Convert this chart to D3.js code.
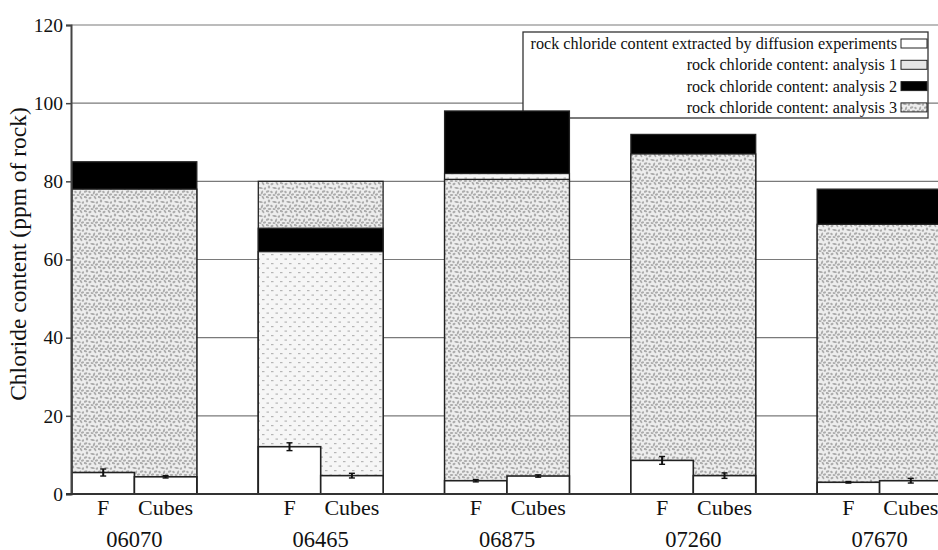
<!DOCTYPE html>
<html>
<head>
<meta charset="utf-8">
<script src="https://cdn.jsdelivr.net/npm/d3@7/dist/d3.min.js"></script>
<style>
  html, body { margin: 0; padding: 0; background: #fff; }
  svg { display: block; }
</style>
</head>
<body>
<svg id="chart" width="938" height="550"></svg>
<script>
// Borehole samples and the two kinds of diffusion sample per borehole
const sites = ["06070", "06465", "06875", "07260", "07670"];
const samples = ["F", "Cubes"];

// Whole-rock chloride content from three independent analyses (ppm of rock)
const analysis1 = [null, 62, 82, null, null];
const analysis2 = [85, 68, 98, 92, 78];
const analysis3 = [78, 80, 80.5, 87, 69];

// Chloride extracted by the diffusion experiments (ppm of rock) and its error
const extractedF = [5.5, 12.1, 3.4, 8.6, 3.0];
const extractedFErr = [0.9, 1.0, 0.3, 1.0, 0.2];
const extractedCubes = [4.4, 4.7, 4.6, 4.7, 3.4];
const extractedCubesErr = [0.3, 0.6, 0.3, 0.7, 0.6];

const yTicks = [0, 20, 40, 60, 80, 100, 120];
const yLabel = "Chloride content (ppm of rock)";
const legendLabels = [
  "rock chloride content extracted by diffusion experiments",
  "rock chloride content: analysis 1",
  "rock chloride content: analysis 2",
  "rock chloride content: analysis 3"
];

const FONT = "Liberation Serif";
const svg = d3.select("#chart");
const W = 938, H = 550;
const plot = { left: 71, right: 942, top: 25, bottom: 494 };

const x = d3.scaleBand().domain(sites).range([plot.left + 1, plot.right]).paddingInner(0.33).paddingOuter(0);
const xs = d3.scaleBand().domain(samples).range([0, x.bandwidth()]);
const y = d3.scaleLinear().domain([0, 120]).range([plot.bottom, plot.top]);

// ---- fill patterns ----
const defs = svg.append("defs");

// coarse speckle used for analysis 3
const speck = defs.append("pattern").attr("id", "speckle")
  .attr("patternUnits", "userSpaceOnUse").attr("width", 14).attr("height", 14);
speck.append("rect").attr("width", 14).attr("height", 14).attr("fill", "#ededed");
const blobs = [
  [1, 1, 2.2, 1.0, 20], [6, 2, 1.6, 1.1, -30], [11, 1.5, 2.0, 0.9, 60],
  [3, 5, 1.5, 1.2, 80], [8.5, 6, 2.3, 1.0, 10], [13, 6.5, 1.4, 1.1, -50],
  [1.5, 9.5, 1.9, 1.0, -20], [5.5, 10, 1.3, 1.2, 45], [10, 10.5, 2.0, 1.0, -70],
  [3.5, 13, 1.8, 0.9, 0], [8, 13.2, 1.4, 1.0, 30], [12.5, 12.5, 1.6, 1.1, -10]
];
blobs.forEach(b => {
  speck.append("ellipse").attr("cx", b[0]).attr("cy", b[1]).attr("rx", b[2]).attr("ry", b[3])
    .attr("transform", `rotate(${b[4]} ${b[0]} ${b[1]})`).attr("fill", "#acacac");
});

// fine dash grid used for analysis 1
const dots = defs.append("pattern").attr("id", "dots")
  .attr("patternUnits", "userSpaceOnUse").attr("width", 9).attr("height", 9);
dots.append("rect").attr("width", 9).attr("height", 9).attr("fill", "#f6f6f6");
dots.append("rect").attr("x", 1).attr("y", 2).attr("width", 2.5).attr("height", 1.2).attr("fill", "#b5b5b5");
dots.append("rect").attr("x", 5.5).attr("y", 6.5).attr("width", 2.5).attr("height", 1.2).attr("fill", "#b5b5b5");

const fills = { a1: "url(#dots)", a2: "#000", a3: "url(#speckle)" };

// ---- grid lines ----
svg.append("g").selectAll("line").data(yTicks.filter(t => t > 0)).join("line")
  .attr("x1", plot.left).attr("x2", W)
  .attr("y1", d => y(d)).attr("y2", d => y(d))
  .attr("stroke", "#7a7a7a").attr("stroke-width", 1.2);

// ---- legend ----
const lg = svg.append("g");
lg.append("rect").attr("x", 523).attr("y", 32).attr("width", 405).attr("height", 86)
  .attr("fill", "#fff").attr("stroke", "#333").attr("stroke-width", 1.3);
const legendFills = ["#fff", "#e6e6e6", "#000", "url(#speckle)"];
legendLabels.forEach((lab, i) => {
  const cy = 43.5 + i * 21.3;
  lg.append("text").attr("x", 897).attr("y", cy + 5.5).attr("text-anchor", "end")
    .attr("font-family", FONT).attr("font-size", 16.2).attr("fill", "#111").text(lab);
  lg.append("rect").attr("x", 901).attr("y", cy - 4.5).attr("width", 26).attr("height", 9)
    .attr("fill", legendFills[i]).attr("stroke", "#222").attr("stroke-width", 1);
});

// ---- whole-rock analyses: overlapping bars, tallest behind ----
const bars = svg.append("g");
sites.forEach((s, i) => {
  const vals = [
    { key: "a1", v: analysis1[i] },
    { key: "a2", v: analysis2[i] },
    { key: "a3", v: analysis3[i] }
  ].filter(d => d.v != null).sort((a, b) => b.v - a.v);
  vals.forEach(d => {
    bars.append("rect")
      .attr("x", x(s)).attr("width", x.bandwidth())
      .attr("y", y(d.v)).attr("height", y(0) - y(d.v))
      .attr("fill", fills[d.key]).attr("stroke", "#222").attr("stroke-width", 1.3);
  });
});

// ---- diffusion extracted chloride (white bars with error bars) ----
const ext = svg.append("g");
sites.forEach((s, i) => {
  const rows = [
    { sample: "F", v: extractedF[i], e: extractedFErr[i] },
    { sample: "Cubes", v: extractedCubes[i], e: extractedCubesErr[i] }
  ];
  rows.forEach(r => {
    const x0 = x(s) + xs(r.sample);
    ext.append("rect").attr("x", x0).attr("width", xs.bandwidth())
      .attr("y", y(r.v)).attr("height", y(0) - y(r.v))
      .attr("fill", "#fff").attr("stroke", "#222").attr("stroke-width", 1.6);
    const cx = x0 + xs.bandwidth() / 2;
    const eb = ext.append("g").attr("stroke", "#111").attr("stroke-width", 1.4);
    eb.append("line").attr("x1", cx).attr("x2", cx).attr("y1", y(r.v - r.e)).attr("y2", y(r.v + r.e)).attr("stroke-width", 2);
    eb.append("line").attr("x1", cx - 3).attr("x2", cx + 3).attr("y1", y(r.v - r.e)).attr("y2", y(r.v - r.e));
    eb.append("line").attr("x1", cx - 3).attr("x2", cx + 3).attr("y1", y(r.v + r.e)).attr("y2", y(r.v + r.e));
  });
});

// ---- axes ----
const yAxis = svg.append("g").attr("transform", `translate(${plot.left},0)`)
  .call(d3.axisLeft(y).tickValues(yTicks).tickSize(5).tickPadding(3));
yAxis.attr("font-family", FONT);
yAxis.select(".domain").attr("stroke", "#444").attr("stroke-width", 2);
yAxis.selectAll(".tick line").attr("stroke", "#444").attr("stroke-width", 1.5);
yAxis.selectAll(".tick text").attr("font-size", 19.5)
  .attr("font-family", FONT).attr("fill", "#111");

svg.append("line").attr("x1", plot.left - 5).attr("x2", W)
  .attr("y1", y(0)).attr("y2", y(0)).attr("stroke", "#333").attr("stroke-width", 2);

// sample labels under each half of a bar
const xl = svg.append("g");
sites.forEach(s => {
  samples.forEach(sm => {
    xl.append("text").attr("x", x(s) + xs(sm) + xs.bandwidth() / 2).attr("y", 515)
      .attr("text-anchor", "middle").attr("font-family", FONT).attr("font-size", 22)
      .attr("fill", "#111").text(sm);
  });
  xl.append("text").attr("x", x(s) + x.bandwidth() / 2).attr("y", 546.5)
    .attr("text-anchor", "middle").attr("font-family", FONT).attr("font-size", 22.5)
    .attr("fill", "#111").text(s);
});

// y-axis title
svg.append("text").attr("transform", `translate(26,${254}) rotate(-90)`)
  .attr("text-anchor", "middle").attr("font-family", FONT).attr("font-size", 23.5)
  .attr("fill", "#111").text(yLabel);
</script>
</body>
</html>
